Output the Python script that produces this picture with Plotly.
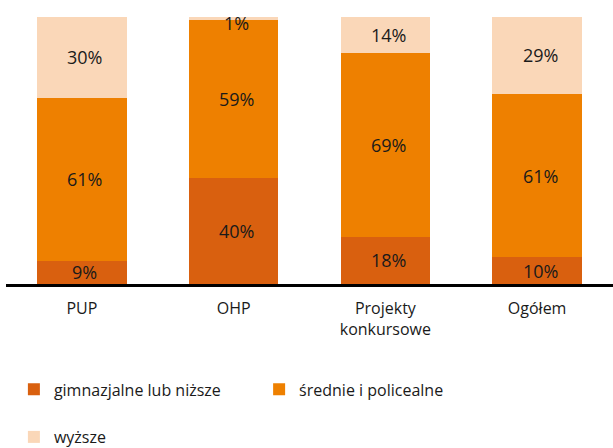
import plotly.graph_objects as go

categories = ["PUP", "OHP", "Projekty<br>konkursowe", "Ogółem"]
gimnazjalne = [8.8, 39.7, 17.7, 10.0]
srednie = [60.9, 59.2, 68.7, 61.2]
wyzsze = [30.3, 1.1, 13.6, 28.8]

series = [
    ("gimnazjalne lub niższe", gimnazjalne, "#D9600F", "legend"),
    ("średnie i policealne", srednie, "#EE8000", "legend2"),
    ("wyższe", wyzsze, "#FAD7B8", "legend3"),
]

FONT = "Open Sans"
TXT = "#1a1a1a"
fig = go.Figure()
base = [0.0] * len(categories)
annotations = []
for name, vals, color, leg in series:
    fig.add_trace(go.Bar(
        x=categories, y=vals, name=name,
        marker=dict(color=color, line=dict(width=0)),
        legend=leg, showlegend=True, hoverinfo="name+y",
    ))
    for i, v in enumerate(vals):
        mid = min(base[i] + v / 2, 97.7)
        annotations.append(dict(
            x=categories[i], y=mid, xref="x", yref="y",
            text=f"{round(v):d}%", showarrow=False, xshift=3,
            font=dict(family=FONT, size=18, color=TXT),
        ))
        base[i] += v

leg_common = dict(font=dict(family=FONT, size=16, color=TXT),
                  bgcolor="rgba(0,0,0,0)", yanchor="middle", xanchor="left",
                  visible=True)
fig.update_layout(
    barmode="stack",
    bargap=0.41,
    width=613, height=448,
    margin=dict(l=6, r=0, t=17, b=164, autoexpand=False),
    paper_bgcolor="white", plot_bgcolor="white",
    showlegend=True,
    annotations=annotations,
    xaxis=dict(showline=True, linecolor="black", linewidth=3, ticks="",
               tickfont=dict(family=FONT, size=16, color=TXT),
               ticklabelstandoff=8,
               showgrid=False, automargin=False),
    yaxis=dict(range=[0, 100], visible=False, showgrid=False),
    legend=dict(x=0.013, y=-0.395, **leg_common),
    legend2=dict(x=0.417, y=-0.395, **leg_common),
    legend3=dict(x=0.013, y=-0.573, **leg_common),
)

fig.write_html("out.html", config={"displayModeBar": False},
               post_script="document.body.style.margin='0px';document.body.style.padding='0px';")
